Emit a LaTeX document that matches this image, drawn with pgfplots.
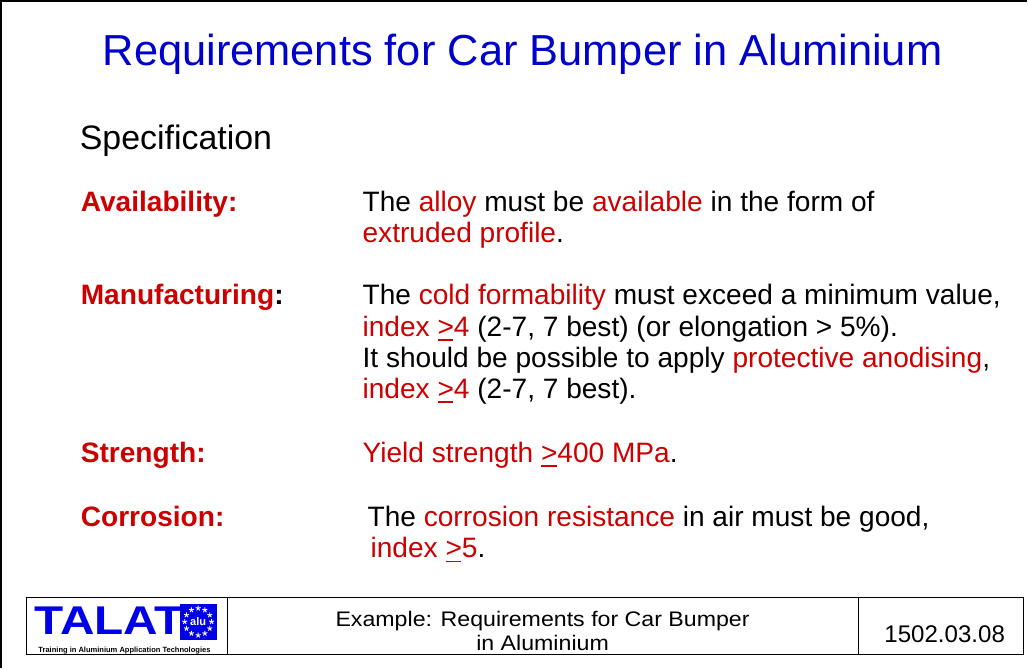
\documentclass[border=0pt]{standalone}
\usepackage{pgfplots}
\pgfplotsset{compat=1.18}
\usepackage{fontspec}
\setmainfont{Liberation Sans}
\definecolor{tblue}{RGB}{0,0,204}
\definecolor{tred}{RGB}{204,0,0}
\definecolor{lblue}{RGB}{0,0,230}
\newcommand{\fs}[1]{\fontsize{#1}{#1}\selectfont}
\newcommand{\R}[1]{\textcolor{tred}{#1}}
\newcommand{\gq}{\leavevmode\rlap{\rule[-4.5pt]{0.56em}{1.6pt}}>}
\begin{document}
\begin{tikzpicture}
\begin{axis}[scale only axis, width=1028pt, height=670pt,
  xmin=0, xmax=1028, ymin=0, ymax=670, y dir=reverse,
  hide axis, clip=false,
  every node/.style={inner sep=0pt, outer sep=0pt}]
% outer frame
\addplot[black, line width=2.2pt] coordinates {(5,670) (5,5) (1028,5)};
% footer box
\addplot[black, line width=0.9pt] coordinates {(30,600) (1025,600) (1025,657) (30,657) (30,600)};
\addplot[black, line width=0.9pt] coordinates {(231,600) (231,657)};
\addplot[black, line width=0.9pt] coordinates {(860,600) (860,657)};
% logo square
\addplot[fill=lblue, draw=none] coordinates {(183,606) (220,606) (220,642) (183,642)} -- cycle;
\addplot[only marks, mark=star, mark size=2.6pt, white, line width=0.9pt] coordinates {
(201.5,610.5) (208.2,612.3) (213.1,617.3) (214.9,624) (213.1,630.7) (208.2,635.6)
(201.5,637.5) (194.8,635.6) (189.9,630.7) (188.1,624) (189.9,617.3) (194.8,612.3)};
\node[anchor=base, text=white, font=\fs{11}\bfseries] at (axis cs:201.5,628) {alu};
\node[anchor=base west, text=lblue, font=\fs{40}\bfseries] at (axis cs:35,637) {\scalebox{1.19}[1]{TALAT}};
\node[anchor=base, font=\fs{7.5}\bfseries] at (axis cs:128,655) {Training in Aluminium Application Technologies};
% footer text
\node[anchor=base, font=\fs{21}] at (axis cs:545,629) {\scalebox{1.1}[1]{Example: Requirements for Car Bumper}};
\node[anchor=base, font=\fs{21}] at (axis cs:545,653) {\scalebox{1.1}[1]{in Aluminium}};
\node[anchor=base, font=\fs{24}] at (axis cs:946,645) {1502.03.08};
% title
\node[anchor=base, text=tblue, font=\fs{43.3}] at (axis cs:525,69) {Requirements for Car Bumper in Aluminium};
\node[anchor=base west, font=\fs{33.8}] at (axis cs:80,153) {Specification};
% labels
\node[anchor=base west, text=tred, font=\fs{28}\bfseries] at (axis cs:81,215) {Availability:};
\node[anchor=base west, font=\fs{28}\bfseries] at (axis cs:81,308) {\R{Manufacturing}:};
\node[anchor=base west, text=tred, font=\fs{28}\bfseries] at (axis cs:81,465) {Strength:};
\node[anchor=base west, text=tred, font=\fs{28}\bfseries] at (axis cs:81,529) {Corrosion:};
% body
\node[anchor=base west, font=\fs{28}] at (axis cs:362,215) {The \R{alloy} must be \R{available} in the form of};
\node[anchor=base west, font=\fs{28}] at (axis cs:362,246) {\R{extruded profile}.};
\node[anchor=base west, font=\fs{28}] at (axis cs:362,308) {The \R{cold formability} must exceed a minimum value,};
\node[anchor=base west, font=\fs{28}] at (axis cs:362,339) {\R{index \gq4} (2-7, 7 best) (or elongation > 5\%).};
\node[anchor=base west, font=\fs{28}] at (axis cs:362,370) {It should be possible to apply \R{protective anodising},};
\node[anchor=base west, font=\fs{28}] at (axis cs:362,401) {\R{index \gq4} (2-7, 7 best).};
\node[anchor=base west, font=\fs{28}] at (axis cs:362,465) {\R{Yield strength \gq400 MPa}.};
\node[anchor=base west, font=\fs{28}] at (axis cs:367,529) {The \R{corrosion resistance} in air must be good,};
\node[anchor=base west, font=\fs{28}] at (axis cs:370,560) {\R{index \gq5}.};
\end{axis}
\end{tikzpicture}
\end{document}
